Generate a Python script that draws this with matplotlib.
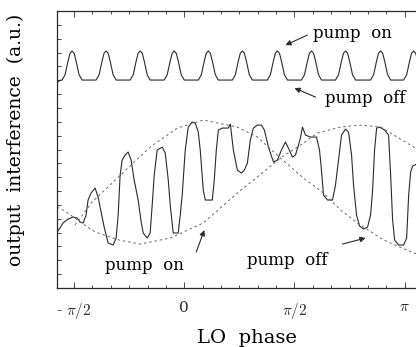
#!/usr/bin/env python3
"""
LO phase scan: output interference with pump on / pump off.
"""

import numpy as np
import matplotlib
matplotlib.use("Agg")
import matplotlib.pyplot as plt
from matplotlib.ticker import MultipleLocator

# upper trace (pump off reference fringes), x = LO phase in rad, y in a.u.
upper_phase = [
    -1.814, -1.771,
    -1.742, -1.699, -1.656, -1.628, -1.599, -1.570, -1.542, -1.499, -1.456,
    -1.257, -1.214, -1.171, -1.143, -1.114, -1.085, -1.057, -1.014, -0.971,
    -0.771, -0.728, -0.685, -0.657, -0.628, -0.599, -0.571, -0.528, -0.485,
    -0.286, -0.243, -0.200, -0.172, -0.143, -0.114, -0.086, -0.043, 0.000,
    0.200, 0.243, 0.286, 0.314, 0.343, 0.372, 0.400, 0.443, 0.486,
    0.685, 0.728, 0.771, 0.799, 0.828, 0.857, 0.885, 0.928, 0.971,
    1.185, 1.228, 1.271, 1.299, 1.328, 1.357, 1.385, 1.428, 1.471,
    1.671, 1.714, 1.757, 1.785, 1.814, 1.843, 1.871, 1.914, 1.957,
    2.156, 2.199, 2.242, 2.270, 2.299, 2.328, 2.356, 2.399, 2.442,
    2.656, 2.699, 2.742, 2.770, 2.799, 2.828, 2.856, 2.899, 2.942,
    3.127, 3.170, 3.213, 3.241, 3.270, 3.299, 3.327, 3.370, 3.413,
    3.550,
]
upper_signal = [
    7.42, 7.50,
    7.51, 7.70, 8.20, 8.48, 8.56, 8.48, 8.20, 7.70, 7.51,
    7.51, 7.70, 8.20, 8.48, 8.56, 8.48, 8.20, 7.70, 7.51,
    7.51, 7.70, 8.20, 8.48, 8.56, 8.48, 8.20, 7.70, 7.51,
    7.51, 7.70, 8.20, 8.48, 8.56, 8.48, 8.20, 7.70, 7.51,
    7.51, 7.70, 8.20, 8.48, 8.56, 8.48, 8.20, 7.70, 7.51,
    7.51, 7.70, 8.20, 8.48, 8.56, 8.48, 8.20, 7.70, 7.51,
    7.51, 7.70, 8.20, 8.48, 8.56, 8.48, 8.20, 7.70, 7.51,
    7.51, 7.70, 8.20, 8.48, 8.56, 8.48, 8.20, 7.70, 7.51,
    7.51, 7.70, 8.20, 8.48, 8.56, 8.48, 8.20, 7.70, 7.51,
    7.51, 7.70, 8.20, 8.48, 8.56, 8.48, 8.20, 7.70, 7.51,
    7.51, 7.70, 8.20, 8.48, 8.56, 8.48, 8.20, 7.70, 7.51,
    7.49,
]

# lower trace (measured interference)
lower_phase = [
    -1.814, -1.771, -1.728, -1.656, -1.585, -1.528, -1.485, -1.442, -1.399,
    -1.371, -1.328, -1.271, -1.228, -1.185, -1.142, -1.085, -1.014, -0.971,
    -0.942, -0.914, -0.885, -0.843, -0.800, -0.757, -0.714, -0.657, -0.614,
    -0.585, -0.528, -0.486, -0.457, -0.428, -0.386, -0.314, -0.271, -0.228,
    -0.200, -0.157, -0.086, -0.057, -0.029, 0.014, 0.057, 0.114, 0.157,
    0.200, 0.228, 0.271, 0.300, 0.400, 0.428, 0.457, 0.486, 0.543, 0.628,
    0.657, 0.700, 0.757, 0.814, 0.857, 0.900, 0.942, 0.985, 1.042, 1.100,
    1.142, 1.200, 1.271, 1.328, 1.385, 1.442, 1.485, 1.542, 1.585, 1.628,
    1.656, 1.685, 1.728, 1.799, 1.885, 1.928, 1.956, 1.985, 2.042, 2.113,
    2.156, 2.199, 2.242, 2.299, 2.342, 2.385, 2.413, 2.456, 2.499, 2.556,
    2.613, 2.656, 2.685, 2.713, 2.742, 2.785, 2.856, 2.913, 2.942, 2.970,
    2.999, 3.056, 3.127, 3.170, 3.199, 3.227, 3.256, 3.313,
]
lower_signal = [
    2.022, 2.166, 2.347, 2.491, 2.563, 2.527, 2.383, 2.347, 2.635,
    3.177, 3.430, 3.610, 3.285, 2.744, 2.202, 1.625, 1.552, 1.805,
    2.635, 4.079, 4.621, 4.801, 4.910, 4.621, 3.899, 3.177, 2.383,
    1.986, 1.805, 1.986, 2.996, 4.079, 4.982, 5.090, 4.874, 3.899,
    2.996, 1.986, 1.986, 2.635, 3.357, 4.982, 5.812, 5.993, 5.957,
    5.632, 4.982, 3.538, 3.177, 3.177, 3.899, 4.982, 5.704, 5.776, 5.776,
    5.920, 4.982, 4.260, 4.152, 4.260, 4.513, 5.343, 5.776, 5.884, 5.884,
    5.704, 5.090, 4.549, 4.621, 4.982, 5.271, 5.054, 4.729, 4.801, 5.162,
    5.415, 5.812, 5.523, 5.451, 5.451, 4.982, 4.260, 3.357, 3.177, 3.177,
    3.718, 4.621, 5.523, 5.740, 5.632, 4.801, 3.718, 2.635, 2.238, 2.130,
    2.202, 2.635, 3.538, 4.982, 5.776, 5.812, 5.704, 5.523, 4.079, 2.455,
    1.733, 1.552, 1.552, 1.805, 3.357, 4.188, 4.404, 4.476,
]

# dashed envelope rising to the right
env_a_phase = [-1.814, -1.699, -1.485, -1.271, -0.928, -0.628, -0.200, 0.271,
               0.757, 1.128, 1.371, 1.656, 1.899, 2.228, 2.513, 2.799, 3.270, 3.513]
env_a_signal = [2.924, 2.780, 2.383, 2.022, 1.733, 1.588, 1.805, 2.347,
                3.430, 4.188, 4.693, 5.162, 5.596, 5.812, 5.884, 5.812, 5.090, 4.621]

# dashed envelope falling to the right
env_b_phase = [-1.557, -1.314, -1.028, -0.728, -0.486, -0.100, 0.271, 0.757,
               1.042, 1.371, 1.699, 1.985, 2.228, 2.470, 2.842, 3.270, 3.513]
env_b_signal = [2.274, 3.105, 3.791, 4.513, 5.090, 5.776, 6.065, 5.812,
                5.451, 4.693, 3.971, 3.430, 2.816, 2.347, 1.733, 1.264, 1.155]

tick_pos = [-np.pi / 2, 0, np.pi / 2, np.pi]
tick_text = [r'- $\pi/2$', '0', r'$\pi/2$', r'$\pi$']


def make_plot():
    plt.rcParams['font.family'] = ['DejaVu Serif']
    plt.rcParams['mathtext.fontset'] = 'cm'

    fig = plt.figure(figsize=(4.16, 3.47), dpi=100)
    ax = fig.add_axes([0.137, 0.170, 0.913, 0.798])

    ink = '#2a2a2a'
    ax.plot(upper_phase, upper_signal, color=ink, lw=0.8)
    ax.plot(lower_phase, lower_signal, color=ink, lw=0.8)
    ax.plot(env_a_phase, env_a_signal, color='#666666', lw=0.7, dashes=(2.5, 3))
    ax.plot(env_b_phase, env_b_signal, color='#666666', lw=0.7, dashes=(2.5, 3))

    ax.set_xlim(-1.814, 3.6)
    ax.set_ylim(0, 10)

    ax.set_xticks(tick_pos)
    ax.set_xticklabels(tick_text, fontsize=11)
    ax.xaxis.set_minor_locator(MultipleLocator(np.pi / 12))
    ax.yaxis.set_major_locator(MultipleLocator(0.5))
    ax.set_yticklabels([])
    ax.tick_params(which='both', direction='in', top=True, right=False,
                   colors=ink, width=0.6)
    ax.tick_params(axis='x', which='major', length=4, pad=9)
    ax.tick_params(axis='x', which='minor', length=2.5)
    ax.tick_params(axis='y', which='major', length=3)
    for side in ['left', 'bottom', 'top']:
        ax.spines[side].set_linewidth(0.9)
        ax.spines[side].set_color(ink)
    ax.spines['right'].set_visible(False)

    ax.set_xlabel('LO  phase', fontsize=14, labelpad=6)
    ax.set_ylabel('output  interference  (a.u.)', fontsize=13.5)
    ax.yaxis.set_label_coords(-0.085, 0.534)

    arrow = dict(arrowstyle='-|>', color=ink, lw=0.8,
                 mutation_scale=8, shrinkA=0, shrinkB=0)
    # arrows
    ax.annotate('', xy=(1.442, 8.773), xytext=(1.756, 9.134), arrowprops=arrow)
    ax.annotate('', xy=(1.571, 7.220), xytext=(1.871, 6.895), arrowprops=arrow)
    ax.annotate('', xy=(0.286, 2.094), xytext=(0.171, 1.300), arrowprops=arrow)
    ax.annotate('', xy=(2.585, 1.805), xytext=(2.256, 1.588), arrowprops=arrow)
    # labels
    ax.text(1.840, 9.18, 'pump  on', fontsize=12, ha='left', va='center')
    ax.text(2.000, 6.85, 'pump  off', fontsize=12, ha='left', va='center')
    ax.text(-1.130, 0.80, 'pump  on', fontsize=12, ha='left', va='center')
    ax.text(0.900, 1.00, 'pump  off', fontsize=12, ha='left', va='center')

    fig.savefig('out.png', dpi=100)


def main():
    make_plot()


if __name__ == "__main__":
    main()
